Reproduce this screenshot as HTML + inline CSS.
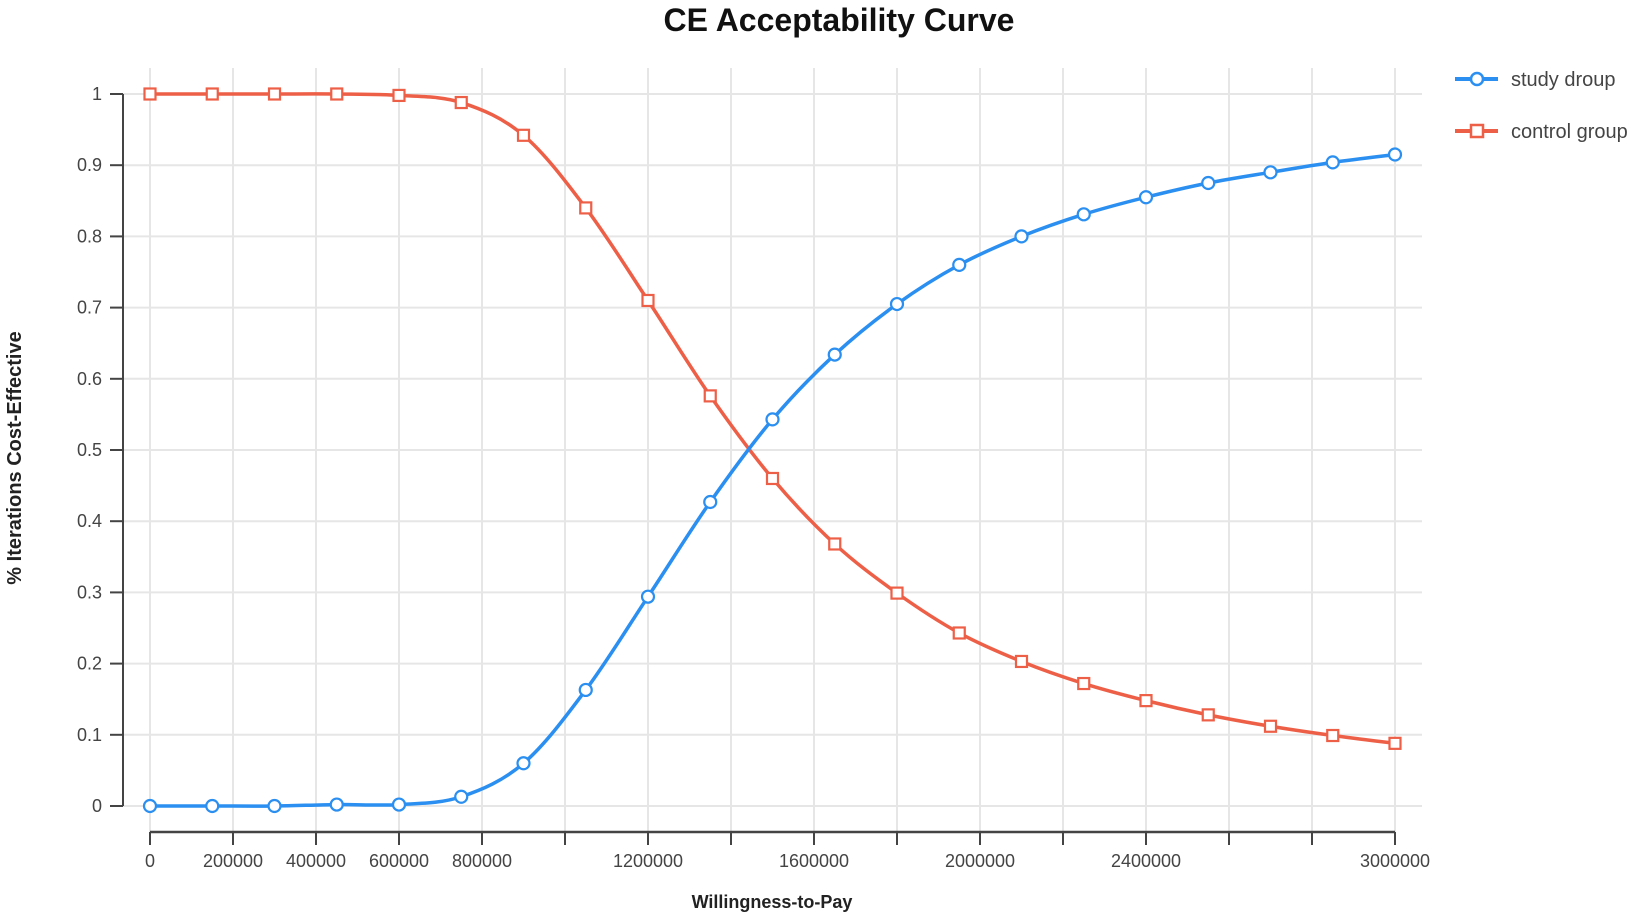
<!DOCTYPE html>
<html><head><meta charset="utf-8"><style>
html,body{margin:0;padding:0;background:#fff;}
svg{display:block;font-family:"Liberation Sans",sans-serif;}
</style></head><body>
<svg id="chart" width="1651" height="920" viewBox="0 0 1651 920">
<text x="839" y="31" text-anchor="middle" font-size="32" font-weight="bold" fill="#111">CE Acceptability Curve</text>
<g id="grid"></g>
<g id="axes"></g>
<g id="series"></g>
<text x="21" y="458" text-anchor="middle" font-size="20" font-weight="bold" fill="#222" transform="rotate(-90 21 458)">% Iterations Cost-Effective</text>
<text x="772" y="908" text-anchor="middle" font-size="18" font-weight="bold" fill="#222">Willingness-to-Pay</text>
<g>
<g>
<line x1="1455" y1="79" x2="1498" y2="79" stroke="#2a8ff0" stroke-width="4"/>
<circle cx="1477" cy="79" r="6" fill="#fff" stroke="#2a8ff0" stroke-width="2.5"/>
<text x="1511" y="86" font-size="20" fill="#444">study droup</text>
</g>
<g>
<line x1="1455" y1="131" x2="1498" y2="131" stroke="#ee5f47" stroke-width="4"/>
<rect x="1471" y="125" width="12" height="12" fill="#fff" stroke="#ee5f47" stroke-width="2.5"/>
<text x="1511" y="138" font-size="20" fill="#444">control group</text>
</g>
</g>
</svg>
<script>
const wtp = [0,150000,300000,450000,600000,750000,900000,1050000,1200000,1350000,1500000,1650000,1800000,1950000,2100000,2250000,2400000,2550000,2700000,2850000,3000000];
const studyGroup = [0,0,0,0.002,0.002,0.013,0.06,0.163,0.294,0.427,0.543,0.634,0.705,0.76,0.8,0.831,0.855,0.875,0.89,0.904,0.915];
const controlGroup = [1,1,1,1,0.998,0.988,0.942,0.84,0.71,0.576,0.46,0.368,0.299,0.243,0.203,0.172,0.148,0.128,0.112,0.099,0.088];
const yTicks = [0,0.1,0.2,0.3,0.4,0.5,0.6,0.7,0.8,0.9,1];
const yTickLabels = ["0","0.1","0.2","0.3","0.4","0.5","0.6","0.7","0.8","0.9","1"];
const xTicks = [0,200000,400000,600000,800000,1000000,1200000,1400000,1600000,1800000,2000000,2200000,2400000,2600000,2800000,3000000];
const xTickLabels = ["0","200000","400000","600000","800000","","1200000","","1600000","","2000000","","2400000","","3000000"];
const xLabelValues = [0,200000,400000,600000,800000,1000000,1200000,1400000,1600000,1800000,2000000,2200000,2400000,2600000,3000000];

const NS="http://www.w3.org/2000/svg";
const X0=150,X1=1395,Y0=806,Y1=94;
const xs=v=>X0+(v-0)/(3000000)*(X1-X0);
const ys=v=>Y0-(v)*(Y0-Y1);
function mk(tag,attrs,parent){const e=document.createElementNS(NS,tag);for(const k in attrs)e.setAttribute(k,attrs[k]);parent.appendChild(e);return e;}
const grid=document.getElementById('grid'),axes=document.getElementById('axes'),series=document.getElementById('series');

yTicks.forEach((t,i)=>{
  const g=mk('line',{x1:123,x2:1422,y1:ys(t),y2:ys(t),stroke:'#e6e6e6','stroke-width':2},grid);
  
  
  const tk=mk('line',{x1:110,x2:123,y1:ys(t),y2:ys(t),stroke:'#444','stroke-width':2},axes);
  
  
  const lb=mk('text',{x:102,y:ys(t)+6,'text-anchor':'end','font-size':18,fill:'#444'},axes);
  lb.textContent=yTickLabels[i];
  
  
});
xTicks.forEach(t=>{
  const g=mk('line',{x1:xs(t),x2:xs(t),y1:68,y2:832,stroke:'#e6e6e6','stroke-width':2},grid);
  
  
  const tk=mk('line',{x1:xs(t),x2:xs(t),y1:832,y2:845,stroke:'#444','stroke-width':2},axes);
  
  
});
xLabelValues.forEach((v,i)=>{
  if(!xTickLabels[i])return;
  const lb=mk('text',{x:xs(v),y:867,'text-anchor':'middle','font-size':18,fill:'#444'},axes);
  lb.textContent=xTickLabels[i];
  
  
});
const ya=mk('line',{x1:123,x2:123,y1:ys(1),y2:ys(0),stroke:'#444','stroke-width':2},axes);


const xa=mk('line',{x1:xs(0),x2:xs(3000000),y1:832,y2:832,stroke:'#444','stroke-width':2.5},axes);



function smooth(pts){
  let d=`M${pts[0][0]},${pts[0][1]}`;
  for(let i=0;i<pts.length-1;i++){
    const p0=pts[Math.max(i-1,0)],p1=pts[i],p2=pts[i+1],p3=pts[Math.min(i+2,pts.length-1)];
    const c1x=p1[0]+(p2[0]-p0[0])/6,c1y=p1[1]+(p2[1]-p0[1])/6;
    const c2x=p2[0]-(p3[0]-p1[0])/6,c2y=p2[1]-(p3[1]-p1[1])/6;
    d+=` C${c1x},${c1y} ${c2x},${c2y} ${p2[0]},${p2[1]}`;
  }
  return d;
}
function draw(vals,color,name,square){
  const pts=wtp.map((w,i)=>[xs(w),ys(vals[i])]);
  const p=mk('path',{d:smooth(pts),fill:'none',stroke:color,'stroke-width':3.5},series);
  
  
  pts.forEach(pt=>{
    let m;
    if(square) m=mk('rect',{x:pt[0]-5.5,y:pt[1]-5.5,width:11,height:11,fill:'#fff',stroke:color,'stroke-width':2.2},series);
    else m=mk('circle',{cx:pt[0],cy:pt[1],r:6,fill:'#fff',stroke:color,'stroke-width':2.2},series);
    
    
  });
}
draw(controlGroup,'#ee5f47','control-group',true);
draw(studyGroup,'#2a8ff0','study-group',false);
</script>
</body></html>
